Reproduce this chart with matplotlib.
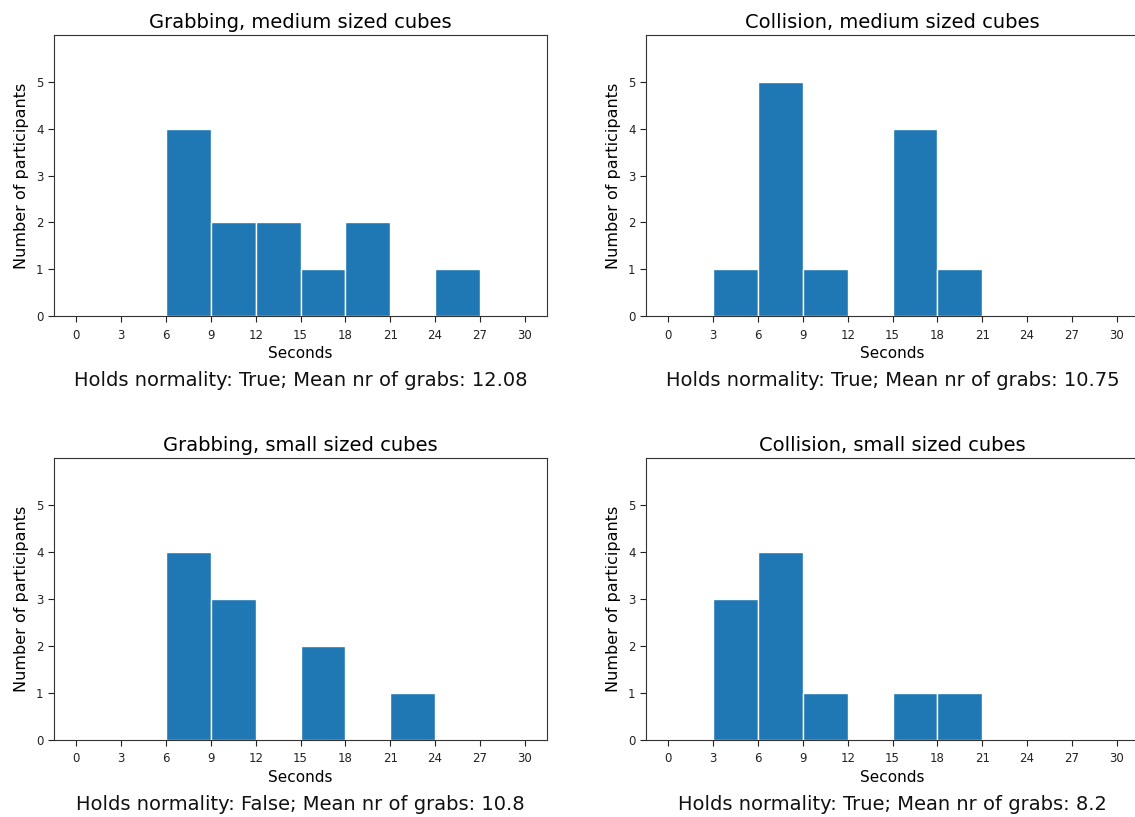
import matplotlib
matplotlib.use("Agg")
import matplotlib.pyplot as plt
import numpy as np

# Data
bin_edges = [0, 3, 6, 9, 12, 15, 18, 21, 24, 27, 30]
xticks = [0, 3, 6, 9, 12, 15, 18, 21, 24, 27, 30]
yticks = [0, 1, 2, 3, 4, 5]

titles = ["Grabbing, medium sized cubes", "Collision, medium sized cubes",
          "Grabbing, small sized cubes", "Collision, small sized cubes"]
counts_grab_medium = [0, 0, 4, 2, 2, 1, 2, 0, 1, 0]
counts_coll_medium = [0, 1, 5, 1, 0, 4, 1, 0, 0, 0]
counts_grab_small = [0, 0, 4, 3, 0, 2, 0, 1, 0, 0]
counts_coll_small = [0, 3, 4, 1, 0, 1, 1, 0, 0, 0]
normality = ["True", "True", "False", "True"]
means = ["12.08", "10.75", "10.8", "8.2"]

all_counts = [counts_grab_medium, counts_coll_medium, counts_grab_small, counts_coll_small]

W, H = 1135, 817
fig = plt.figure(figsize=(W / 100, H / 100), dpi=100)

# axes pixel boxes: left, top, width, height
boxes = [(54, 35, 493, 281), (646, 35, 493, 281),
         (54, 458, 493, 282), (646, 458, 493, 282)]
note_y = [381, 381, 804, 804]

for i, (l, t, w, h) in enumerate(boxes):
    ax = fig.add_axes([l / W, 1 - (t + h) / H, w / W, h / H])
    ax.hist(bin_edges[:-1], bins=bin_edges, weights=all_counts[i],
            color="#1f77b4", edgecolor="white", linewidth=1.0)
    ax.set_xlim(-1.5, 31.5)
    ax.set_ylim(0, 6)
    ax.set_xticks(xticks)
    ax.set_yticks(yticks)
    ax.tick_params(labelsize=8.5, colors="#222222", length=4, width=0.8)
    ax.tick_params(axis="x", pad=5)
    ax.set_xlabel("Seconds", fontsize=11, labelpad=3)
    ax.set_ylabel("Number of participants", fontsize=11.5, labelpad=5)
    ax.set_title(titles[i], fontsize=14, pad=5)
    for s in ax.spines.values():
        s.set_color("#333333")
        s.set_linewidth(0.8)
    fig.text((l + w / 2) / W, 1 - note_y[i] / H,
             f"Holds normality: {normality[i]}; Mean nr of grabs: {means[i]}",
             ha="center", va="center", fontsize=14, color="#111111")

fig.savefig("out.png", dpi=100)
